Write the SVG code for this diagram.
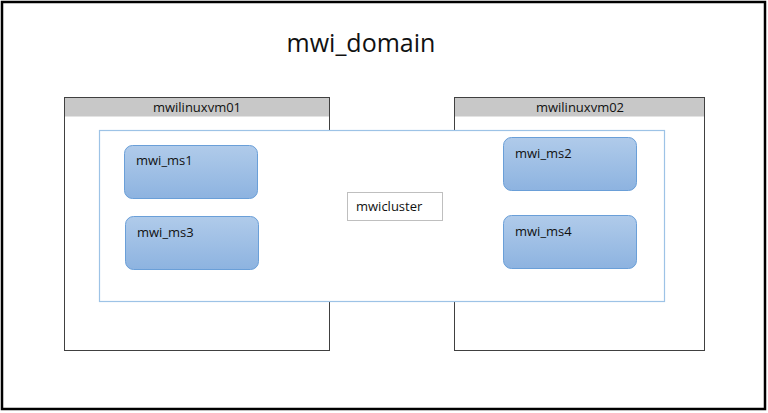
<svg xmlns="http://www.w3.org/2000/svg" width="768" height="413" viewBox="0 0 768 413">
<style>
text{font-family:"Open Sans","Liberation Sans",sans-serif;fill:#111}
.vm{fill:#fff;stroke:#404040;stroke-width:1}
.hdr{fill:#c8c8c8}
.ms{fill:url(#g);stroke:#6a9fd8;stroke-width:1}
.lbl{font-size:13px}
</style>
<defs>
<linearGradient id="g" x1="0" y1="0" x2="0" y2="1">
<stop offset="0" stop-color="#b0cbea"/>
<stop offset="1" stop-color="#8db3e0"/>
</linearGradient>
</defs>
<rect x="0" y="0" width="768" height="413" fill="#fff"/>
<g id="domain">
<rect x="2" y="2" width="763" height="407" fill="#fff" stroke="#000" stroke-width="2.5"/>
<text x="361" y="52" font-size="25" text-anchor="middle">mwi_domain</text>
</g>
<g id="vm01">
<rect class="vm" x="64.5" y="97.5" width="265" height="253"/>
<rect class="hdr" x="65" y="98" width="264" height="18.5"/>
<text class="lbl" x="197" y="112" text-anchor="middle">mwilinuxvm01</text>
</g>
<g id="vm02">
<rect class="vm" x="454.5" y="97.5" width="250" height="253"/>
<rect class="hdr" x="455" y="98" width="249" height="18.5"/>
<text class="lbl" x="580" y="112" text-anchor="middle">mwilinuxvm02</text>
</g>
<g id="mwicluster">
<rect x="99.5" y="130.5" width="565" height="171" fill="#fff" stroke="#9dc3e6" stroke-width="1.2"/>
<rect x="347.5" y="192.5" width="95" height="28" fill="#fff" stroke="#bfbfbf" stroke-width="1"/>
<text class="lbl" x="356" y="211">mwicluster</text>
</g>
<g id="mwi_ms1">
<rect class="ms" x="124.5" y="145.5" width="133" height="53" rx="8"/>
<text class="lbl" x="136" y="165">mwi_ms1</text>
</g>
<g id="mwi_ms3">
<rect class="ms" x="125.5" y="216.5" width="133" height="53" rx="8"/>
<text class="lbl" x="137" y="237">mwi_ms3</text>
</g>
<g id="mwi_ms2">
<rect class="ms" x="503.5" y="137.5" width="133" height="53" rx="8"/>
<text class="lbl" x="515" y="158">mwi_ms2</text>
</g>
<g id="mwi_ms4">
<rect class="ms" x="503.5" y="215.5" width="133" height="53" rx="8"/>
<text class="lbl" x="515" y="236">mwi_ms4</text>
</g>
<g id="connectors"></g>
</svg>
